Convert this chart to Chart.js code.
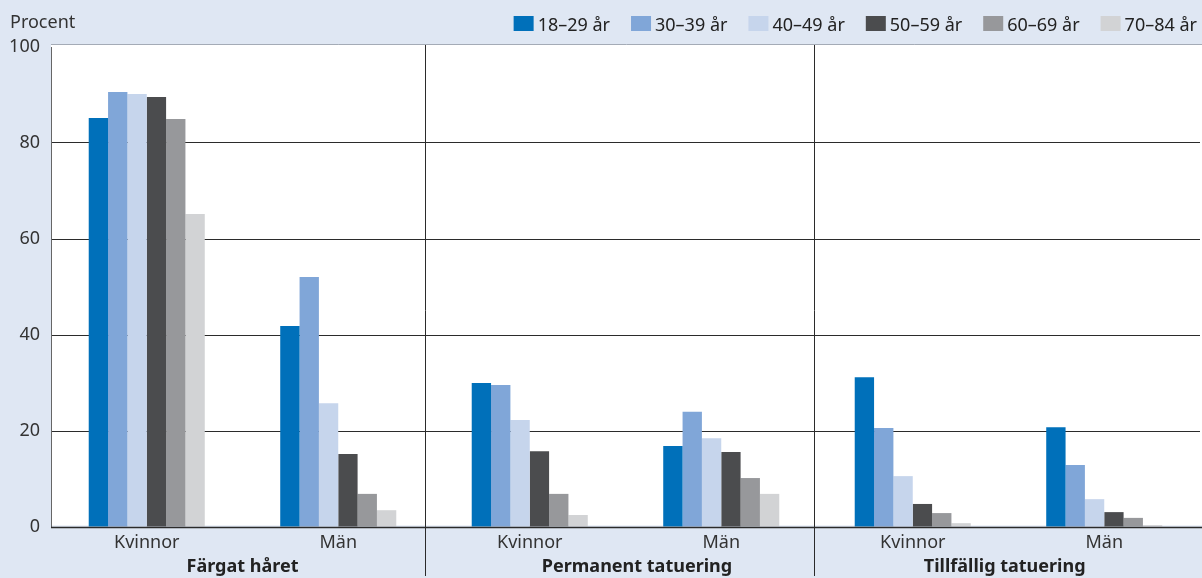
<!DOCTYPE html>
<html>
<head>
<meta charset="utf-8">
<script src="https://cdn.jsdelivr.net/npm/chart.js@4/dist/chart.umd.min.js"></script>
<style>
  html, body { margin: 0; padding: 0; background: #dfe7f3; }
  canvas { display: block; }
</style>
</head>
<body>
<canvas id="c" width="1202" height="578"></canvas>
<script>
// ---- data ----
const categories = ['Kvinnor', 'Män', 'Kvinnor', 'Män', 'Kvinnor', 'Män'];
const groupNames = ['Färgat håret', 'Permanent tatuering', 'Tillfällig tatuering'];
const ageGroups = ['18–29 år', '30–39 år', '40–49 år', '50–59 år', '60–69 år', '70–84 år'];
const age18_29 = [85.2, 41.9, 30.0, 16.9, 31.2, 20.8];
const age30_39 = [90.6, 52.1, 29.6, 24.0, 20.6, 12.9];
const age40_49 = [90.2, 25.8, 22.3, 18.5, 10.6, 5.8];
const age50_59 = [89.6, 15.2, 15.8, 15.6, 4.8, 3.1];
const age60_69 = [85.0, 6.9, 6.9, 10.2, 2.9, 1.9];
const age70_84 = [65.2, 3.5, 2.5, 6.9, 0.8, 0.4];
const yTicks = [0, 20, 40, 60, 80, 100];
const yTitle = 'Procent';

// ---- styling / layout ----
const colors = ['#0070ba', '#80a6d8', '#c6d5ec', '#4b4c4e', '#97989b', '#d2d3d5'];
const BG = '#dfe7f3';
const FONT = '"Noto Sans", sans-serif';
const groupCenters = [0.5, 2.56, 4.48];   // category-index positions for group titles
const separatorsAt = [1.455, 3.485];      // category-index positions for vertical dividers

const seriesValues = [age18_29, age30_39, age40_49, age50_59, age60_69, age70_84];

const decor = {
  id: 'decor',
  beforeDraw(chart) {
    const {ctx, chartArea: a} = chart;
    ctx.save();
    ctx.fillStyle = BG;
    ctx.fillRect(0, 0, chart.width, chart.height);
    ctx.fillStyle = '#ffffff';
    ctx.fillRect(a.left, a.top - 2, chart.width - a.left, a.bottom - a.top + 0.5);
    // thin top edge of plot area
    ctx.strokeStyle = '#a4abb6';
    ctx.lineWidth = 1;
    ctx.beginPath();
    ctx.moveTo(a.left, a.top - 2.5);
    ctx.lineTo(chart.width, a.top - 2.5);
    ctx.stroke();
    ctx.restore();
  },
  afterDraw(chart) {
    const {ctx, chartArea: a} = chart;
    const xs = chart.scales.x;
    ctx.save();
    // vertical separators
    ctx.strokeStyle = '#2b2b2b';
    ctx.lineWidth = 1;
    separatorsAt.forEach(v => {
      const px = Math.round(xs.getPixelForValue(v)) + 0.5;
      ctx.beginPath();
      ctx.moveTo(px, a.top - 2);
      ctx.lineTo(px, chart.height - 2);
      ctx.stroke();
    });
    // bottom axis line extends to edge
    ctx.strokeStyle = '#2b2b2b';
    ctx.lineWidth = 1.5;
    ctx.beginPath();
    ctx.moveTo(a.left, a.bottom + 0.5);
    ctx.lineTo(chart.width, a.bottom + 0.5);
    ctx.stroke();
    // group titles
    ctx.fillStyle = '#222';
    ctx.font = 'bold 18px ' + FONT;
    ctx.textAlign = 'center';
    ctx.textBaseline = 'alphabetic';
    groupNames.forEach((g, i) => {
      ctx.fillText(g, xs.getPixelForValue(groupCenters[i]), 572);
    });
    // y title
    ctx.textAlign = 'left';
    ctx.font = '18px ' + FONT;
    ctx.fillStyle = '#333';
    ctx.fillText(yTitle, 10, 28);
    // legend (right aligned)
    const boxW = 20, boxH = 15, gapBox = 4, gapItem = 21;
    ctx.font = '18px ' + FONT;
    const widths = chart.data.datasets.map(d => ctx.measureText(d.label).width);
    const total = widths.reduce((s, w) => s + boxW + gapBox + w, 0) + gapItem * (widths.length - 1);
    let x = 1197 - total;
    chart.data.datasets.forEach((d, i) => {
      ctx.fillStyle = d.backgroundColor;
      ctx.fillRect(x, 16, boxW, boxH);
      ctx.fillStyle = '#222';
      ctx.textAlign = 'left';
      ctx.fillText(d.label, x + boxW + gapBox, 31);
      x += boxW + gapBox + widths[i] + gapItem;
    });
    ctx.restore();
  }
};

new Chart(document.getElementById('c'), {
  type: 'bar',
  data: {
    labels: categories,
    datasets: ageGroups.map((name, i) => ({
      label: name,
      data: seriesValues[i],
      backgroundColor: colors[i],
      borderWidth: 0,
      categoryPercentage: 0.606,
      barPercentage: 1.0
    }))
  },
  options: {
    responsive: false,
    devicePixelRatio: 1,
    animation: false,
    layout: { padding: { top: 47, right: 2, left: 0, bottom: 0 } },
    plugins: { legend: { display: false }, tooltip: { enabled: false } },
    scales: {
      x: {
        grid: { display: false, drawTicks: false },
        border: { display: false },
        ticks: { color: '#333', font: { family: FONT, size: 18 }, padding: 5, maxRotation: 0 },
        afterFit(s) { s.height = 51; }
      },
      y: {
        min: 0, max: 100,
        afterBuildTicks(s) { s.ticks = yTicks.map(v => ({ value: v })); },
        grid: {
          drawTicks: false,
          lineWidth: 1,
          color: c => (c.tick && (c.tick.value === 100 || c.tick.value === 0)) ? 'rgba(0,0,0,0)' : '#2b2b2b'
        },
        border: { display: true, color: '#666', width: 1 },
        ticks: { color: '#333', font: { family: FONT, size: 18 }, padding: 11 },
        afterFit(s) { s.width = 51; }
      }
    }
  },
  plugins: [decor]
});
</script>
</body>
</html>
